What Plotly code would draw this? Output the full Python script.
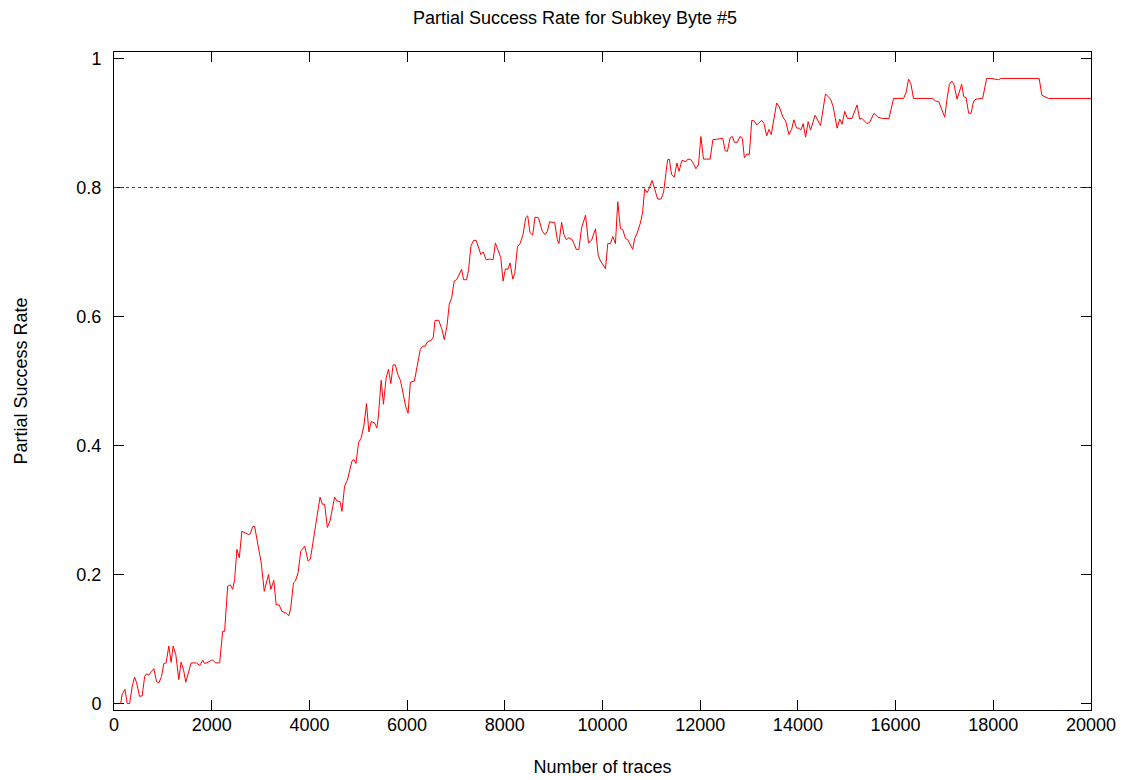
import plotly.graph_objects as go

# Number of traces (x) and partial success rate (y)
traces = [0, 137, 169, 224, 271, 320, 373, 422, 463, 524, 578, 627, 667, 714, 769, 816,
          871, 918, 973, 1020, 1067, 1122, 1169, 1210, 1265, 1327, 1373, 1422, 1469, 1524,
          1578, 1688, 1755, 1816, 1857, 1925, 2014, 2076, 2163, 2224, 2265, 2327, 2382,
          2429, 2469, 2516, 2565, 2618, 2688, 2755, 2790, 2837, 2878, 2939, 3014, 3076,
          3163, 3210, 3271, 3320, 3382, 3435,
          3531, 3578, 3618, 3673, 3714, 3769, 3822, 3904, 3973, 4020, 4088, 4178, 4218,
          4265, 4312, 4367, 4422, 4516, 4565, 4627, 4667, 4720, 4776, 4871, 4912, 4953,
          5006, 5061, 5116, 5169, 5218, 5265, 5333, 5382, 5414, 5469, 5516, 5571, 5618,
          5667, 5714, 5761, 5810, 5863, 5925, 5973, 6020, 6067, 6149, 6218, 6271, 6320,
          6367, 6422, 6490, 6537, 6571, 6647,
          6714, 6761, 6816, 6863, 6912, 6965, 7014, 7116, 7157, 7218, 7259, 7306, 7361,
          7414, 7463, 7510, 7557, 7618, 7688, 7761, 7808, 7861, 7918, 7965, 8014, 8061,
          8108, 8163, 8204, 8259, 8312, 8373, 8429, 8469, 8516, 8571, 8618, 8688, 8769,
          8822, 8871, 8918, 8959, 9020, 9076, 9108, 9163, 9210, 9259, 9312, 9382, 9463,
          9516, 9571, 9653, 9714, 9776, 9857, 9912, 9959,
          10061, 10108, 10163, 10210, 10265, 10312, 10367, 10414, 10469, 10516, 10618,
          10659, 10708, 10776, 10822, 10863, 10912, 10959, 11014, 11067, 11129, 11198,
          11251, 11300, 11333, 11367, 11414, 11469, 11524, 11565, 11627, 11708, 11749,
          11810, 11863, 11912, 11965, 12014, 12067, 12204, 12259, 12463, 12510, 12557,
          12612, 12659, 12700, 12761, 12816, 12863, 12904, 12953, 13006, 13055, 13108,
          13157,
          13259, 13306, 13361, 13408, 13455, 13565, 13618, 13700, 13749, 13816, 13871,
          13918, 13973, 14020, 14061, 14108, 14157, 14210, 14259, 14353, 14414, 14463,
          14565, 14618, 14667, 14720, 14802, 14857, 14904, 14959, 15014, 15108, 15210,
          15265, 15312, 15414, 15469, 15557, 15639, 15729, 15863, 15959, 16163, 16218,
          16265, 16312, 16367,
          16761, 16816, 16884, 16953, 17006, 17055, 17102, 17149, 17190, 17259, 17306,
          17353, 17394, 17443, 17496, 17545, 17598, 17647, 17782, 17816, 17863, 17953,
          18041, 18108, 18157, 18939, 18994, 19041, 19129, 20000]

success_rate = [0.000, 0.000, 0.015, 0.022, 0.000, 0.000, 0.027, 0.041, 0.032, 0.011, 0.012,
                0.042, 0.046, 0.044, 0.050, 0.054, 0.034, 0.032, 0.042, 0.062, 0.063, 0.089,
                0.064, 0.089, 0.076, 0.037, 0.064, 0.053, 0.033, 0.048, 0.063, 0.063, 0.059,
                0.067, 0.062, 0.064, 0.068, 0.063, 0.063, 0.112, 0.112, 0.182, 0.184, 0.177,
                0.192, 0.239, 0.226, 0.267, 0.265, 0.262, 0.263, 0.274, 0.275, 0.247, 0.218,
                0.174, 0.200, 0.177, 0.191, 0.153, 0.153, 0.143,
                0.140, 0.136, 0.148, 0.187, 0.190, 0.203, 0.236, 0.244, 0.221, 0.224, 0.259,
                0.307, 0.320, 0.309, 0.309, 0.273, 0.283, 0.320, 0.314, 0.313, 0.298, 0.337,
                0.346, 0.376, 0.378, 0.372, 0.404, 0.412, 0.431, 0.465, 0.421, 0.437, 0.435,
                0.427, 0.447, 0.501, 0.464, 0.505, 0.518, 0.496, 0.525, 0.525, 0.510, 0.501,
                0.479, 0.460, 0.450, 0.498, 0.500, 0.528, 0.549, 0.554, 0.554, 0.561, 0.563,
                0.568, 0.594, 0.594,
                0.580, 0.564, 0.585, 0.619, 0.629, 0.655, 0.657, 0.673, 0.657, 0.657, 0.673,
                0.709, 0.718, 0.718, 0.706, 0.696, 0.700, 0.688, 0.689, 0.688, 0.714, 0.704,
                0.691, 0.655, 0.674, 0.673, 0.683, 0.658, 0.667, 0.708, 0.713, 0.727, 0.753,
                0.756, 0.730, 0.726, 0.754, 0.753, 0.732, 0.727, 0.732, 0.747, 0.746, 0.746,
                0.719, 0.713, 0.746, 0.727, 0.719, 0.722, 0.719, 0.704, 0.704, 0.737, 0.757,
                0.714, 0.718, 0.736, 0.695, 0.686,
                0.674, 0.713, 0.713, 0.724, 0.713, 0.778, 0.736, 0.735, 0.721, 0.719, 0.704,
                0.721, 0.729, 0.745, 0.762, 0.798, 0.792, 0.799, 0.811, 0.798, 0.782, 0.782,
                0.793, 0.823, 0.843, 0.844, 0.820, 0.816, 0.838, 0.825, 0.842, 0.840, 0.844,
                0.843, 0.837, 0.829, 0.835, 0.879, 0.844, 0.844, 0.874, 0.876, 0.857, 0.856,
                0.877, 0.879, 0.870, 0.870, 0.879, 0.876, 0.846, 0.852, 0.851, 0.904, 0.903,
                0.897,
                0.904, 0.899, 0.880, 0.890, 0.882, 0.931, 0.925, 0.908, 0.903, 0.882, 0.890,
                0.905, 0.892, 0.892, 0.889, 0.899, 0.878, 0.902, 0.889, 0.912, 0.904, 0.896,
                0.945, 0.940, 0.937, 0.926, 0.892, 0.906, 0.898, 0.918, 0.907, 0.907, 0.928,
                0.906, 0.907, 0.899, 0.901, 0.915, 0.909, 0.907, 0.907, 0.938, 0.938, 0.948,
                0.968, 0.961, 0.938,
                0.938, 0.934, 0.933, 0.921, 0.909, 0.939, 0.960, 0.965, 0.961, 0.937, 0.949,
                0.960, 0.941, 0.939, 0.915, 0.915, 0.934, 0.937, 0.938, 0.949, 0.969, 0.969,
                0.968, 0.967, 0.969, 0.969, 0.943, 0.941, 0.938, 0.938]

threshold = 0.8
x_ticks = [0, 2000, 4000, 6000, 8000, 10000, 12000, 14000, 16000, 18000, 20000]
y_ticks = [0, 0.2, 0.4, 0.6, 0.8, 1]
y_tick_labels = ["0", "0.2", "0.4", "0.6", "0.8", "1"]

FONT = "Liberation Sans, Arial, Helvetica, sans-serif"

fig = go.Figure()
fig.add_trace(go.Scatter(x=traces, y=success_rate, mode="lines",
                         line=dict(color="#ff0000", width=1), showlegend=False))

fig.add_shape(type="line", xref="paper", yref="y", x0=0, x1=1, y0=threshold, y1=threshold,
              line=dict(color="#444444", width=1, dash="dot"))

axis_common = dict(showline=True, linecolor="black", linewidth=1, mirror="ticks",
                   ticks="inside", ticklen=10, tickcolor="black", tickwidth=1,
                   showgrid=False, zeroline=False,
                   tickfont=dict(family=FONT, size=18, color="black"))

fig.update_xaxes(range=[0, 20000], tickvals=x_ticks, ticktext=[str(v) for v in x_ticks],
                 title=dict(text="Number of traces", font=dict(family=FONT, size=18, color="black"),
                            standoff=26),
                 ticklabelstandoff=-2, **axis_common)
fig.update_yaxes(range=[-0.01, 1.01], tickvals=y_ticks, ticktext=y_tick_labels,
                 title=dict(text="Partial Success Rate", font=dict(family=FONT, size=18, color="black"),
                            standoff=44),
                 ticklabelstandoff=8, **axis_common)

fig.update_layout(
    width=1134, height=780,
    margin=dict(l=104, r=51, t=44, b=78),
    paper_bgcolor="white", plot_bgcolor="white",
    title=dict(text="Partial Success Rate for Subkey Byte #5", x=0.5, xanchor="center",
               y=1 - 10 / 780, yanchor="middle",
               font=dict(family=FONT, size=18, color="black")),
)

fig.write_html("out.html")
